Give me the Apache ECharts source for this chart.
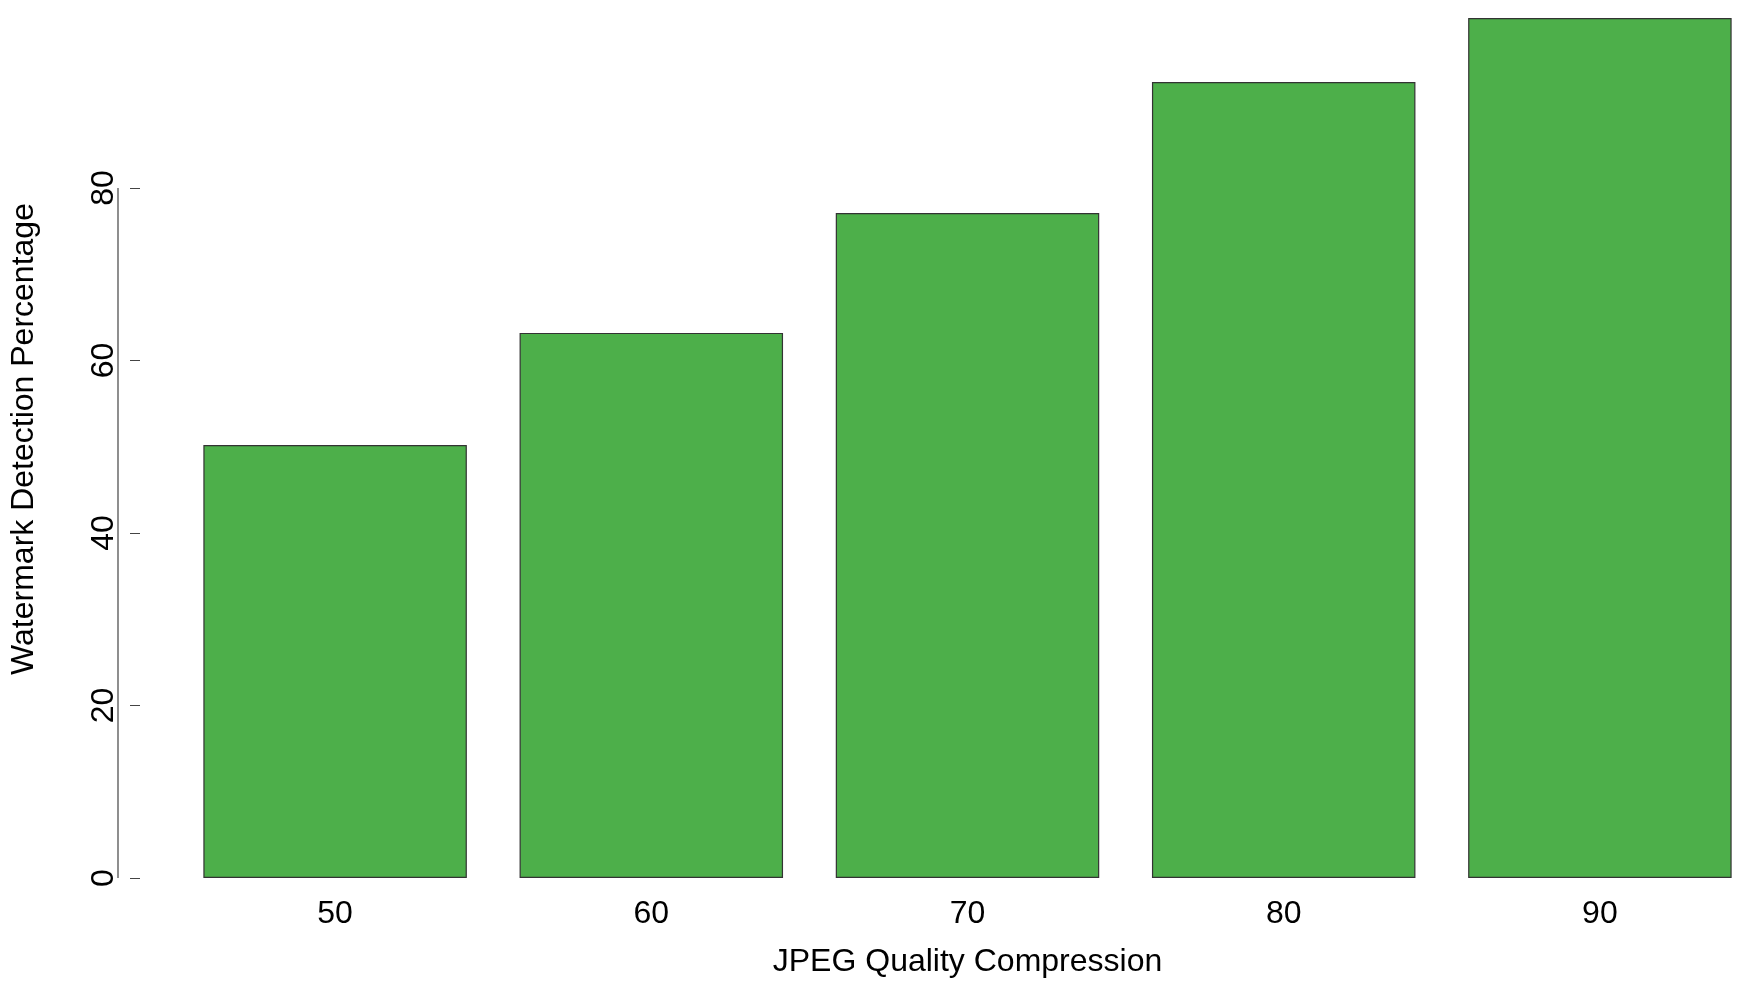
<!DOCTYPE html>
<html>
<head>
<meta charset="utf-8">
<script src="https://cdn.jsdelivr.net/npm/echarts@6/dist/echarts.min.js"></script>
<style>html,body{margin:0;padding:0;background:#fff}#chart{width:1758px;height:989px}</style>
</head>
<body>
<div id="chart"></div>
<script>
// data
var qualityLevels = ['50', '60', '70', '80', '90'];
var detectionPct = [50.2, 63.2, 77.1, 92.3, 99.7];
var yTicks = [0, 20, 40, 60, 80];

var font = 'Liberation Sans, Arial, sans-serif';
var chart = echarts.init(document.getElementById('chart'));

var option = {
    backgroundColor: '#fff',
    animation: false,
    grid: {left: 155, right: -7, top: 0, bottom: 111},
    xAxis: {
        type: 'category',
        data: qualityLevels,
        axisLine: {show: false},
        axisTick: {show: false},
        axisLabel: {color: '#000', fontSize: 32, fontFamily: font, margin: 20},
        name: 'JPEG Quality Compression',
        nameLocation: 'middle',
        nameGap: 68,
        nameTextStyle: {color: '#000', fontSize: 32, fontFamily: font}
    },
    yAxis: {
        type: 'value',
        min: 0,
        max: 101.8,
        offset: 37,
        splitLine: {show: false},
        axisLine: {show: false},
        axisTick: {show: true, length: 10, customValues: yTicks, lineStyle: {color: '#444'}},
        axisLabel: {
            rotate: 90, color: '#000', fontSize: 32, fontFamily: font, margin: 20,
            customValues: yTicks
        },
        name: 'Watermark Detection Percentage',
        nameLocation: 'middle',
        nameGap: 100,
        nameTextStyle: {color: '#000', fontSize: 32, fontFamily: font}
    },
    series: [{
        type: 'bar',
        data: detectionPct,
        barCategoryGap: '16.67%',
        itemStyle: {color: '#4DAF4A', borderColor: '#333', borderWidth: 1.2}
    }]
};
chart.setOption(option);

// R-style axis line only spanning the tick range
var p0 = chart.convertToPixel({yAxisIndex: 0}, yTicks[0]);
var p1 = chart.convertToPixel({yAxisIndex: 0}, yTicks[yTicks.length - 1]);
chart.setOption({
    graphic: [{
        type: 'line',
        shape: {x1: 118, y1: p0, x2: 118, y2: p1},
        style: {stroke: '#444', lineWidth: 1.2}
    }]
});
</script>
</body>
</html>
